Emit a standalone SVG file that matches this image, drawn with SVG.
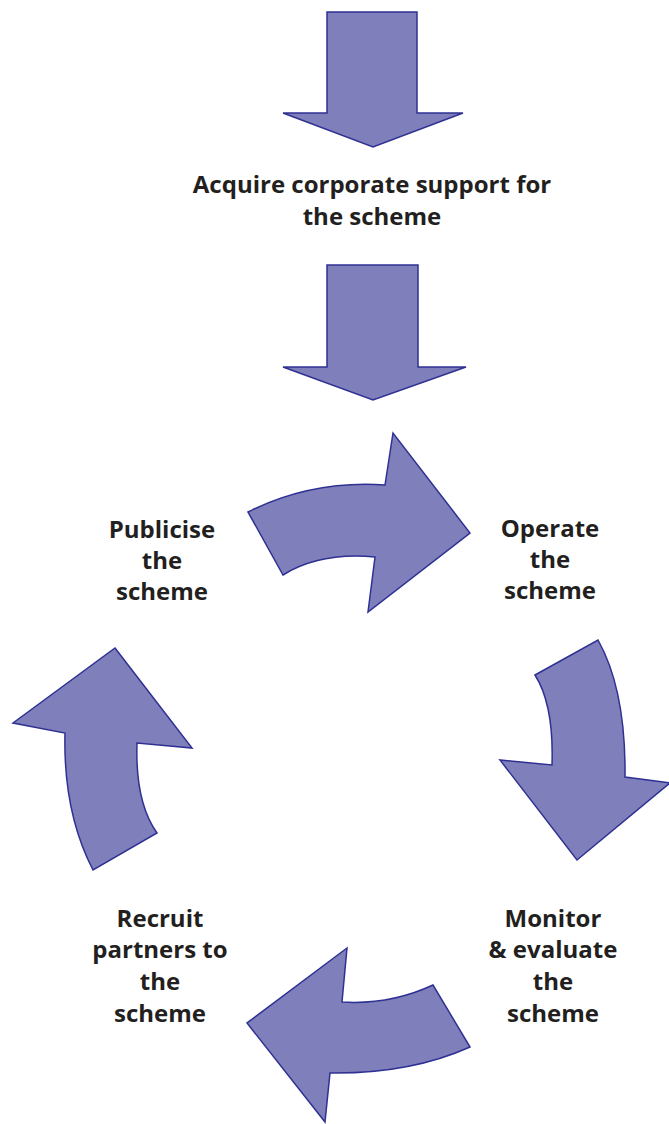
<svg xmlns="http://www.w3.org/2000/svg" width="669" height="1124" viewBox="0 0 669 1124">
<style>
.arr{fill:#7F7FBB;stroke:#2E3192;stroke-width:1.5;stroke-linejoin:miter}
.lbl{font-family:"Open Sans","Liberation Sans",sans-serif;font-weight:700;font-size:24px;fill:#231F20;text-anchor:middle}
</style>
<rect width="669" height="1124" fill="#ffffff"/>
<g id="connectors">
<path id="arrow-top" class="arr" d="M327,12 L417,12 L417,113 L463,113 L373,147 L283,113 L327,113 Z"/>
<path id="arrow-mid" class="arr" d="M327,265 L418,265 L418,367 L466,367 L373,400 L283,367 L327,367 Z"/>
<path id="arrow-publicise-operate" class="arr" d="M248,512 Q312,480 385,485 L393,433 L470,533 L368,612 L375,557 Q320,552 283,575 Z"/>
<path id="arrow-operate-monitor" class="arr" d="M535,675 L598,640 Q626,690 625,777 L670,783 L577,860 L500,760 L552,765 Q554,705 535,675 Z"/>
<path id="arrow-monitor-recruit" class="arr" d="M347,948 L342,1002 Q390,1005 433,985 L470,1047 Q410,1074 330,1073 L325,1122 L247,1023 Z"/>
<path id="arrow-recruit-publicise" class="arr" d="M115,648 L192,748 L137,743 Q135,802 157,833 L93,870 Q63,812 65,733 L13,723 Z"/>
</g>
<g id="node-acquire">
<text class="lbl" x="372" y="193">Acquire corporate support for</text>
<text class="lbl" x="372" y="225">the scheme</text>
</g>
<g id="node-publicise">
<text class="lbl" x="162" y="538">Publicise</text>
<text class="lbl" x="162" y="569">the</text>
<text class="lbl" x="162" y="600">scheme</text>
</g>
<g id="node-operate">
<text class="lbl" x="550" y="537">Operate</text>
<text class="lbl" x="550" y="568">the</text>
<text class="lbl" x="550" y="599">scheme</text>
</g>
<g id="node-monitor">
<text class="lbl" x="553" y="927">Monitor</text>
<text class="lbl" x="553" y="958">&amp; evaluate</text>
<text class="lbl" x="553" y="990">the</text>
<text class="lbl" x="553" y="1022">scheme</text>
</g>
<g id="node-recruit">
<text class="lbl" x="160" y="927">Recruit</text>
<text class="lbl" x="160" y="958">partners to</text>
<text class="lbl" x="160" y="990">the</text>
<text class="lbl" x="160" y="1022">scheme</text>
</g>
</svg>
